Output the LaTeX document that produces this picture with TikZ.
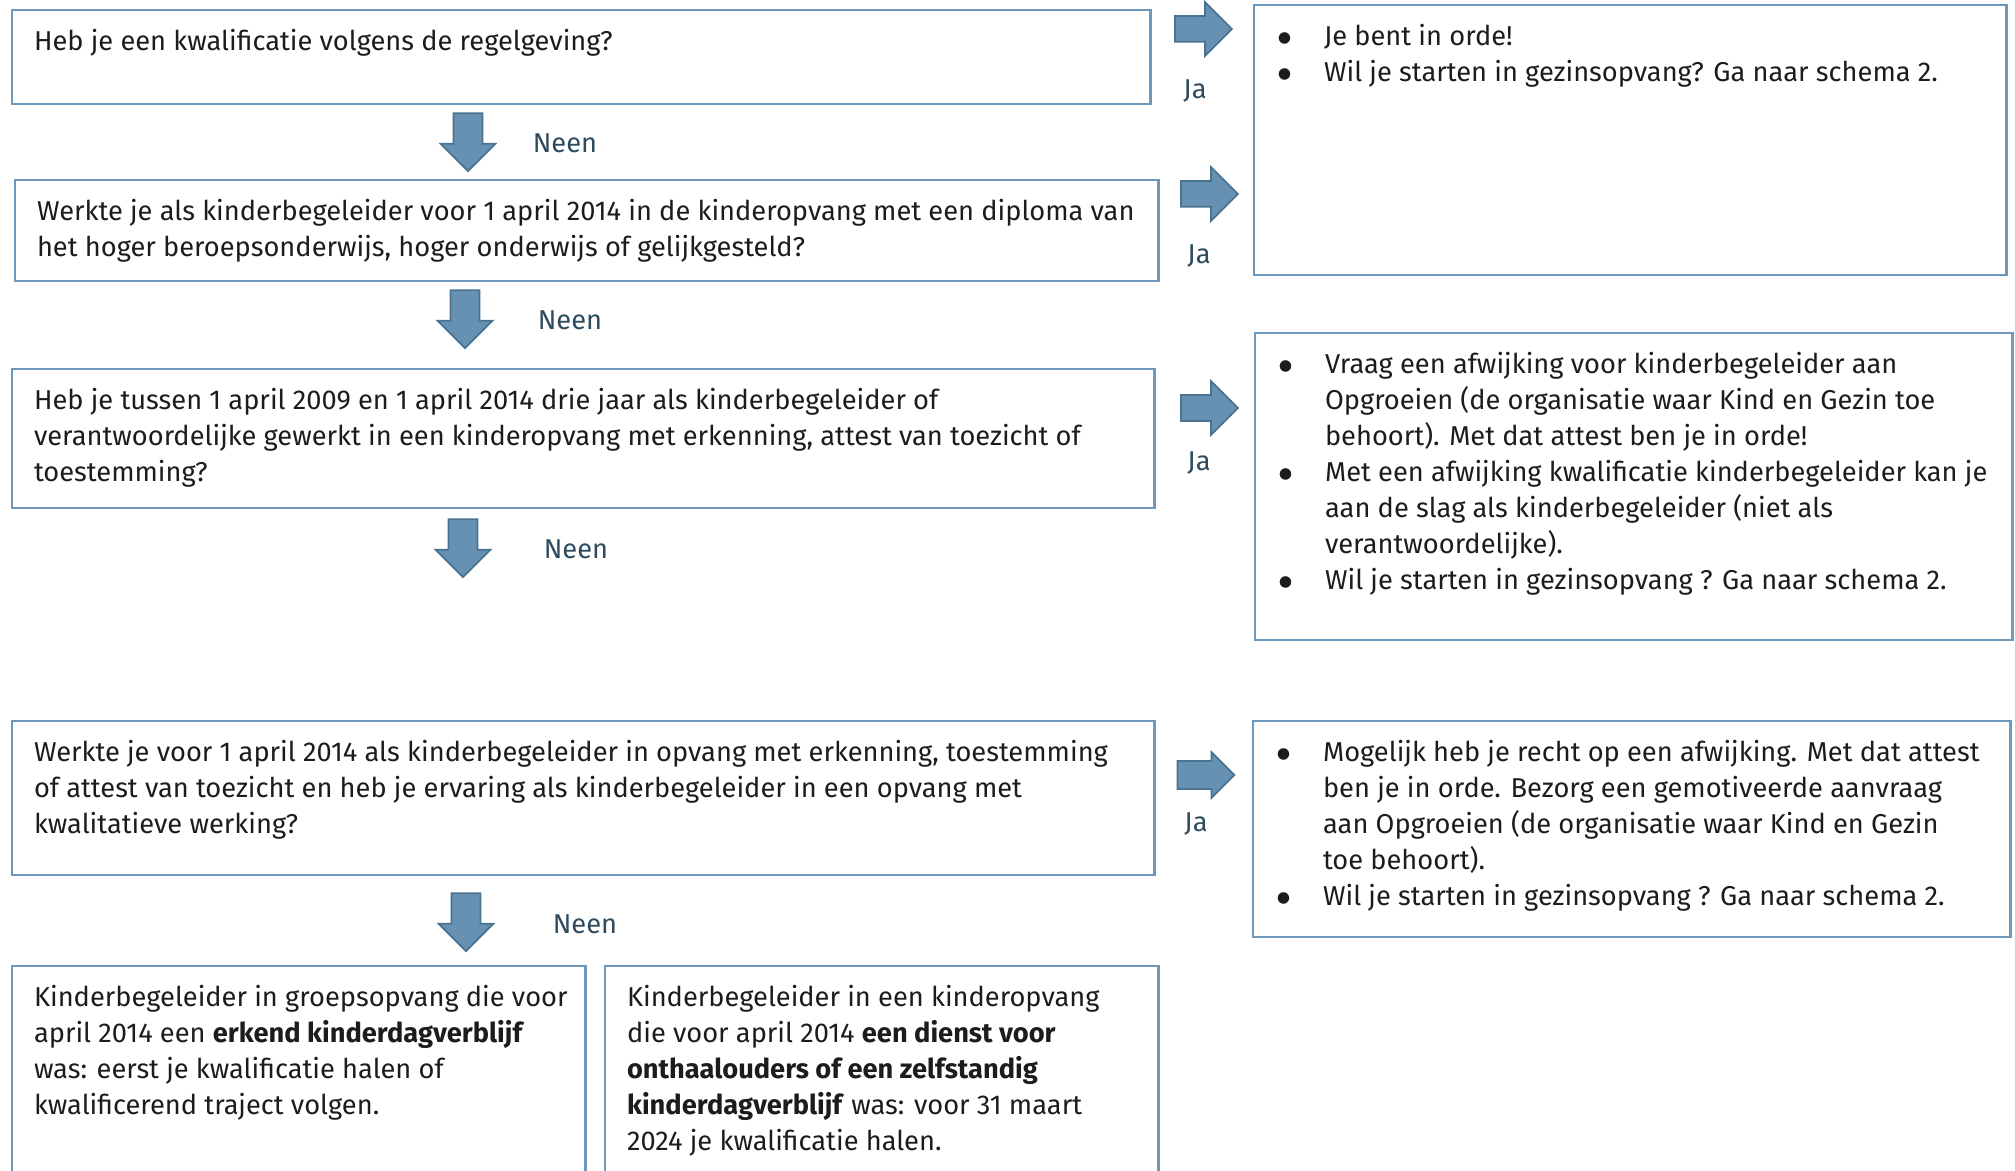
\documentclass[tikz,border=0pt]{standalone}
\usepackage{fontspec}
\setmainfont{Fira Sans}
\usepackage{xcolor}
\usetikzlibrary{positioning,shapes.arrows}

\definecolor{boxblue}{HTML}{6E99BC}
\definecolor{arrowfill}{HTML}{6691B3}
\definecolor{arrowline}{HTML}{4A7391}
\definecolor{lblcol}{HTML}{2D4A5E}
\definecolor{txtcol}{HTML}{1C1C1A}

% text inside a box: top aligned, width and height in cm
\newcommand{\boxtxt}[3]{\parbox[t][#2cm][t]{#1cm}{\raggedright\rightskip=-0.3cm plus 1fil #3}}
% bullet line with hanging indent
\newcommand{\bul}{\par\noindent\hangindent=0.47cm\hangafter=1\makebox[0.47cm][l]{\strut$\bullet$}}

\begin{document}
\begin{tikzpicture}[x=0.01cm,y=-0.01cm,
	main font/.style={font=\fontsize{7.75pt}{10.24pt}\selectfont},
	qbox/.style={draw=boxblue, line width=0.75pt, rectangle, anchor=north west,
		outer sep=0pt, inner xsep=0.22cm, inner ysep=0.15cm, text=txtcol, main font},
	abox/.style={qbox, inner xsep=0.23cm},
	darrow/.style={single arrow, draw=arrowline, fill=arrowfill, line width=0.5pt,
		inner sep=0.135cm, minimum width=0.53cm, minimum height=0.58cm,
		single arrow head extend=0.13cm, shape border rotate=270},
	rarrow/.style={single arrow, draw=arrowline, fill=arrowfill, line width=0.5pt,
		inner sep=0.12cm, minimum width=0.52cm, minimum height=0.57cm,
		single arrow head extend=0.14cm},
	lbl/.style={text=lblcol, main font, inner sep=0pt}]

	\clip (0,0) rectangle (2015,1171);

	% questions
	\node[qbox] (q1) at (12,10) {\boxtxt{10.94}{0.64}{\strut Heb je een kwalificatie volgens de regelgeving?}};
	\node[qbox] (q2) at (15,180) {\boxtxt{10.99}{0.71}{\strut Werkte je als kinderbegeleider voor 1 april 2014 in de kinderopvang met een diploma van\\het hoger beroepsonderwijs, hoger onderwijs of gelijkgesteld?}};
	\node[qbox] (q3) at (12,369) {\boxtxt{10.98}{1.09}{\strut Heb je tussen 1 april 2009 en 1 april 2014 drie jaar als kinderbegeleider of\\verantwoordelijke gewerkt in een kinderopvang met erkenning, attest van toezicht of\\toestemming?}};
	\node[qbox] (q4) at (12,721) {\boxtxt{10.98}{1.24}{\strut Werkte je voor 1 april 2014 als kinderbegeleider in opvang met erkenning, toestemming\\of attest van toezicht en heb je ervaring als kinderbegeleider in een opvang met\\kwalitatieve werking?}};

	% answers
	\node[abox] (a1) at (1254,5) {\boxtxt{7.06}{2.40}{%
		\bul Je bent in orde!
		\bul Wil je starten in gezinsopvang? Ga naar schema 2.}};
	\node[abox] (a2) at (1255,333) {\boxtxt{7.11}{2.77}{%
		\bul Vraag een afwijking voor kinderbegeleider aan\newline Opgroeien (de organisatie waar Kind en Gezin toe\newline behoort). Met dat attest ben je in orde!
		\bul Met een afwijking kwalificatie kinderbegeleider kan je\newline aan de slag als kinderbegeleider (niet als\newline verantwoordelijke).
		\bul Wil je starten in gezinsopvang ? Ga naar schema 2.}};
	\node[abox] (a3) at (1253,721) {\boxtxt{7.11}{1.86}{%
		\bul Mogelijk heb je recht op een afwijking. Met dat attest\newline ben je in orde. Bezorg een gemotiveerde aanvraag\newline aan Opgroeien (de organisatie waar Kind en Gezin\newline toe behoort).
		\bul Wil je starten in gezinsopvang ? Ga naar schema 2.}};

	% bottom boxes
	\node[qbox] (e1) at (12,966) {\boxtxt{5.29}{2.30}{\strut Kinderbegeleider in groepsopvang die voor\\april 2014 een \textbf{erkend kinderdagverblijf}\\was: eerst je kwalificatie halen of\\kwalificerend traject volgen.}};
	\node[qbox] (e2) at (605,966) {\boxtxt{5.09}{2.30}{\strut Kinderbegeleider in een kinderopvang\\die voor april 2014 \textbf{een dienst voor}\\\textbf{onthaalouders of een zelfstandig}\\\textbf{kinderdagverblijf} was: voor 31 maart\\2024 je kwalificatie halen.}};

	% neen arrows
	\node[darrow] (n1) at (468,135) {};
	\node[darrow] (n2) at (465,312) {};
	\node[darrow] (n3) at (463,541) {};
	\node[darrow] (n4) at (466,915) {};
	\node[lbl] (nl1) at (565,143) {Neen};
	\node[lbl] (nl2) at (570,320) {Neen};
	\node[lbl] (nl3) at (576,549) {Neen};
	\node[lbl] (nl4) at (585,924) {Neen};

	% ja arrows
	\node[rarrow] (j1) at (1197,29) {};
	\node[rarrow] (j2) at (1203,194) {};
	\node[rarrow] (j3) at (1203,408) {};
	\node[rarrow, inner sep=0.13cm, minimum width=0.44cm, single arrow head extend=0.09cm] (j4) at (1199,775) {};
	\node[lbl] (jl1) at (1195,91) {Ja};
	\node[lbl] (jl2) at (1199,256) {Ja};
	\node[lbl] (jl3) at (1199,463) {Ja};
	\node[lbl] (jl4) at (1196,824) {Ja};

\end{tikzpicture}
\end{document}
